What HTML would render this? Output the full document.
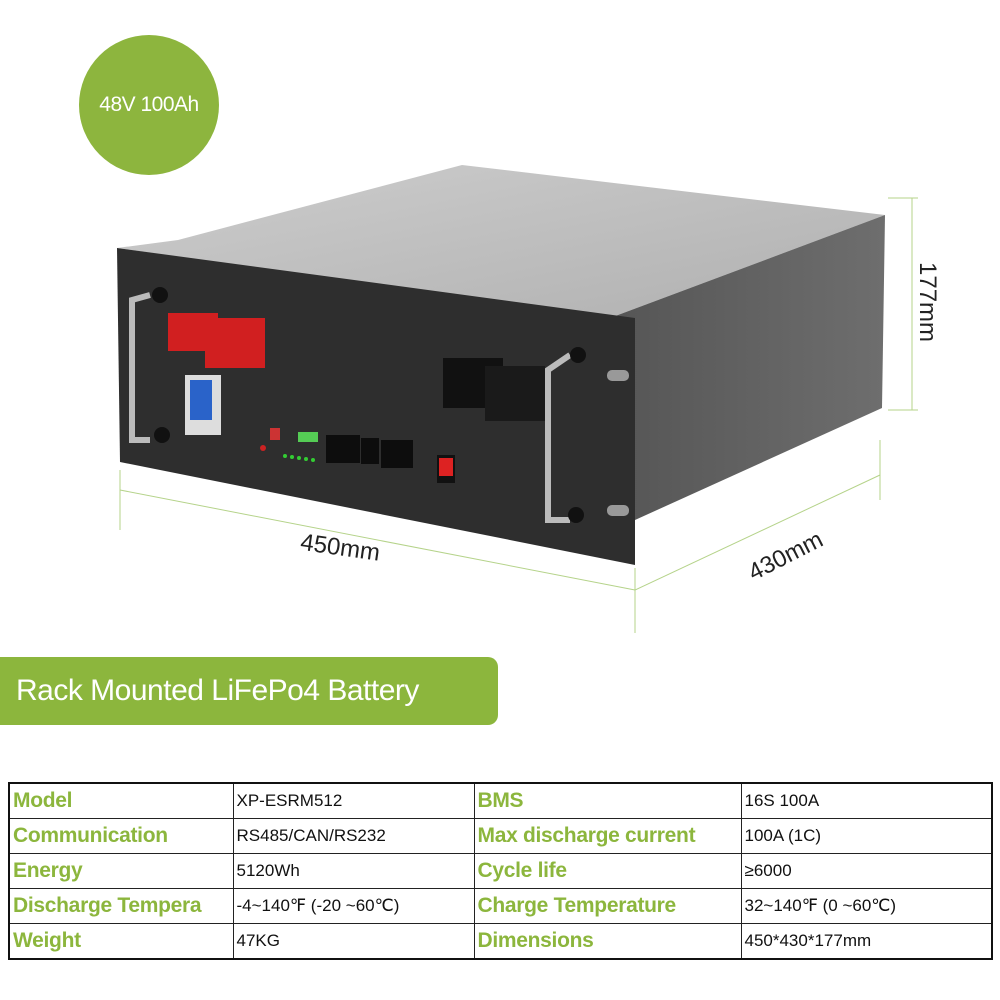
<!DOCTYPE html>
<html><head><style>
body{margin:0;width:1000px;height:1000px;background:#fff;position:relative;overflow:hidden;font-family:"Liberation Sans",sans-serif}
.circ{position:absolute;left:79px;top:35px;width:140px;height:140px;border-radius:50%;background:#8db53e;color:#fff;font-size:21px;text-align:center;line-height:140px;letter-spacing:-0.5px}
.ban{position:absolute;left:0;top:657px;width:498px;height:68px;background:#8cb63d;border-radius:0 10px 10px 0;color:#fff;font-size:30px;line-height:68px;padding-left:16px;box-sizing:border-box;letter-spacing:-0.5px}
table{position:absolute;left:8px;top:782px;border-collapse:collapse;width:985px;border:2px solid #111;table-layout:fixed}
td{border:1.5px solid #222;height:34px;padding:0 3px;font-size:17px;white-space:nowrap;overflow:hidden;color:#111}
td.l{color:#8cb63d;font-weight:bold;font-size:21px;letter-spacing:-0.3px}
</style></head><body>
<svg width="1000" height="650" style="position:absolute;left:0;top:0">
<defs><linearGradient id="tp" x1="0" y1="0" x2="1" y2="1"><stop offset="0" stop-color="#cdcdcd"/><stop offset="1" stop-color="#b0b0b0"/></linearGradient>
<linearGradient id="sd" x1="0" y1="0" x2="1" y2="0"><stop offset="0" stop-color="#555"/><stop offset="1" stop-color="#6e6e6e"/></linearGradient></defs>
<polygon points="178,240 462,165 885,215 610,318 117,248" fill="url(#tp)"/>
<polygon points="610,318 885,215 882,408 635,520" fill="url(#sd)"/>
<polygon points="117,248 635,318 635,565 120,462" fill="#2e2e2e"/>
<rect x="607" y="370" width="22" height="11" rx="5" fill="#999"/>
<rect x="607" y="505" width="22" height="11" rx="5" fill="#999"/>
<path d="M150,295 L132,300 L132,440 L150,440" stroke="#bbb" stroke-width="6" fill="none"/>
<circle cx="160" cy="295" r="8" fill="#111"/><circle cx="162" cy="435" r="8" fill="#111"/>
<path d="M570,355 L548,370 L548,520 L570,520" stroke="#bbb" stroke-width="6" fill="none"/>
<circle cx="578" cy="355" r="8" fill="#111"/><circle cx="576" cy="515" r="8" fill="#111"/>
<rect x="168" y="313" width="50" height="38" fill="#d11f20"/><rect x="205" y="318" width="60" height="50" fill="#d11f20"/>
<rect x="443" y="358" width="60" height="50" fill="#111"/><rect x="485" y="366" width="60" height="55" fill="#1a1a1a"/>
<rect x="185" y="375" width="36" height="60" fill="#ddd"/><rect x="190" y="380" width="22" height="40" fill="#2a63c9"/>
<rect x="326" y="435" width="34" height="28" fill="#0d0d0d"/><rect x="361" y="438" width="18" height="26" fill="#0d0d0d"/><rect x="381" y="440" width="32" height="28" fill="#0d0d0d"/>
<rect x="298" y="432" width="20" height="10" fill="#5c5"/><rect x="270" y="428" width="10" height="12" fill="#c33"/>
<circle cx="263" cy="448" r="3" fill="#c22"/>
<g fill="#3c3"><circle cx="285" cy="456" r="2"/><circle cx="292" cy="457" r="2"/><circle cx="299" cy="458" r="2"/><circle cx="306" cy="459" r="2"/><circle cx="313" cy="460" r="2"/></g>
<rect x="437" y="455" width="18" height="28" fill="#111"/><rect x="439" y="458" width="14" height="18" fill="#d22"/>
<g stroke="#b5d38a" stroke-width="1" fill="none">
<line x1="912" y1="198" x2="912" y2="410"/><line x1="888" y1="198" x2="918" y2="198"/><line x1="888" y1="410" x2="918" y2="410"/>
<line x1="120" y1="470" x2="120" y2="530"/><line x1="635" y1="568" x2="635" y2="633"/>
<line x1="120" y1="490" x2="635" y2="590"/><line x1="635" y1="590" x2="880" y2="475"/>
<line x1="880" y1="440" x2="880" y2="500"/>
</g>
<text x="300" y="556" font-size="24" fill="#222" transform="rotate(8 345 550)">450mm</text>
<text x="740" y="565" font-size="24" fill="#222" transform="rotate(-27 780 545)">430mm</text>
<text x="920" y="262" font-size="24" fill="#222" transform="rotate(90 920 262)">177mm</text>
</svg>
<div class="circ">48V 100Ah</div>
<div class="ban">Rack Mounted LiFePo4 Battery</div>
<table>
<colgroup><col style="width:224px"><col style="width:241px"><col style="width:267px"><col></colgroup>
<tr><td class="l">Model</td><td>XP-ESRM512</td><td class="l">BMS</td><td>16S 100A</td></tr>
<tr><td class="l">Communication</td><td>RS485/CAN/RS232</td><td class="l">Max discharge current</td><td>100A (1C)</td></tr>
<tr><td class="l">Energy</td><td>5120Wh</td><td class="l">Cycle life</td><td>≥6000</td></tr>
<tr><td class="l">Discharge Tempera</td><td>-4~140℉ (-20 ~60℃)</td><td class="l">Charge Temperature</td><td>32~140℉ (0 ~60℃)</td></tr>
<tr><td class="l">Weight</td><td>47KG</td><td class="l">Dimensions</td><td>450*430*177mm</td></tr>
</table>
</body></html>
